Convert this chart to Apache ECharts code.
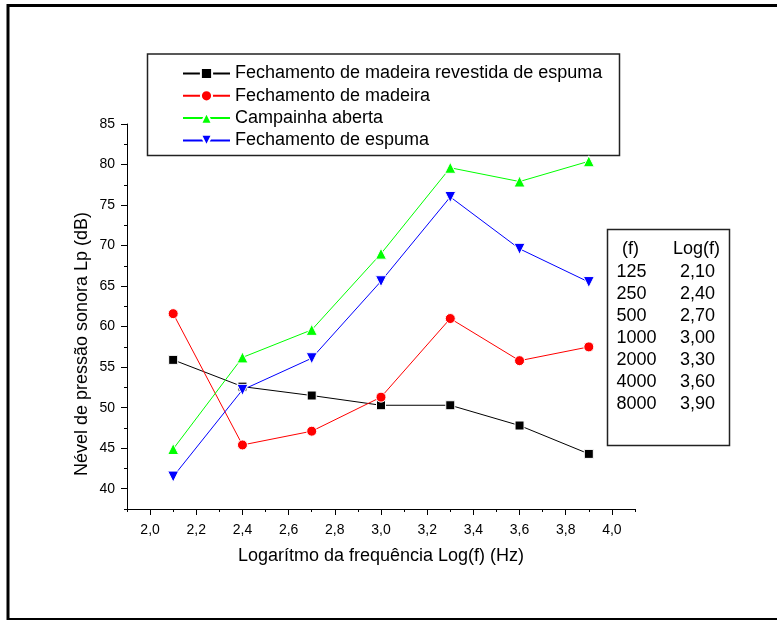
<!DOCTYPE html>
<html>
<head>
<meta charset="utf-8">
<script src="https://cdn.jsdelivr.net/npm/echarts@6/dist/echarts.min.js"></script>
<style>
  html, body { margin: 0; padding: 0; background: #fff; }
  #chart { width: 777px; height: 620px; }
</style>
</head>
<body>
<div id="chart"></div>
<script>
// log(f) das frequências medidas
const logF = [2.1, 2.4, 2.7, 3.0, 3.3, 3.6, 3.9];

// nível de pressão sonora (dB) para cada montagem
const madeiraEspuma = [55.9, 52.6, 51.5, 50.3, 50.3, 47.8, 44.3];
const madeira = [61.6, 45.4, 47.1, 51.3, 61.0, 55.8, 57.5];
const campainhaAberta = [44.9, 56.2, 59.6, 69.0, 79.6, 77.9, 80.4];
const espuma = [41.5, 52.2, 56.1, 65.6, 76.0, 69.6, 65.5];

// marcas dos eixos
const xTicks = [2.0, 2.2, 2.4, 2.6, 2.8, 3.0, 3.2, 3.4, 3.6, 3.8, 4.0];
const xMinor = [1.9, 2.1, 2.3, 2.5, 2.7, 2.9, 3.1, 3.3, 3.5, 3.7, 3.9, 4.1];
const yTicks = [40, 45, 50, 55, 60, 65, 70, 75, 80, 85];
const yMinor = [37.5, 42.5, 47.5, 52.5, 57.5, 62.5, 67.5, 72.5, 77.5, 82.5];

// tabela f -> Log(f)
const tabelaF = ['125', '250', '500', '1000', '2000', '4000', '8000'];
const tabelaLog = ['2,10', '2,40', '2,70', '3,00', '3,30', '3,60', '3,90'];

const FONT = 'Arial, "Liberation Sans", sans-serif';

const chart = echarts.init(document.getElementById('chart'));

function mkSeries(name, values, color, symbol, size, rotate) {
  return {
    name: name,
    type: 'line',
    data: logF.map((x, i) => [x, values[i]]),
    symbol: symbol,
    symbolSize: size,
    symbolRotate: rotate || 0,
    showAllSymbol: true,
    lineStyle: { color: color, width: 1 },
    itemStyle: { color: color, borderColor: '#fff', borderWidth: 1 },
    emphasis: { disabled: true },
    animation: false
  };
}

// textos da tabela
const tableTexts = [];
function cell(x, y, text) {
  tableTexts.push({
    type: 'text', x: x, y: y, z: 2,
    style: { text: text, font: '18px ' + FONT, fill: '#000', verticalAlign: 'middle' }
  });
}
cell(622, 249.5, '(f)');
cell(673, 249.5, 'Log(f)');
tabelaF.forEach((f, i) => {
  const y = 271.7 + i * 22.1;
  cell(616.5, y, f);
  cell(680, y, tabelaLog[i]);
});

const option = {
  backgroundColor: '#fff',
  animation: false,
  grid: { left: 127, top: 124, right: 142, bottom: 111 },
  legend: {
    orient: 'vertical',
    left: 177,
    top: 59.5,
    itemWidth: 47,
    itemHeight: 14,
    itemGap: 4.3,
    textStyle: { fontFamily: FONT, fontSize: 18, color: '#000', lineHeight: 18 },
    data: [
      'Fechamento de madeira revestida de espuma',
      'Fechamento de madeira',
      'Campainha aberta',
      'Fechamento de espuma'
    ],
    selectedMode: false
  },
  xAxis: [
    {
      type: 'value',
      min: 1.9,
      max: 4.1,
      position: 'bottom',
      name: 'Logarítmo da frequência Log(f) (Hz)',
      nameLocation: 'middle',
      nameGap: 38,
      nameTextStyle: { fontFamily: FONT, fontSize: 18, color: '#000' },
      splitLine: { show: false },
      axisLine: { onZero: false, lineStyle: { color: '#000', width: 1 } },
      axisTick: { customValues: xTicks, length: 6, lineStyle: { color: '#000' } },
      axisLabel: {
        customValues: xTicks,
        margin: 14,
        fontFamily: FONT, fontSize: 14, color: '#000',
        formatter: v => v.toFixed(1).replace('.', ',')
      }
    },
    {
      type: 'value',
      min: 1.9,
      max: 4.1,
      position: 'bottom',
      splitLine: { show: false },
      axisLine: { show: false, onZero: false },
      axisTick: { customValues: xMinor, length: 3, lineStyle: { color: '#000' } },
      axisLabel: { show: false }
    }
  ],
  yAxis: [
    {
      type: 'value',
      min: 37.5,
      max: 85,
      position: 'left',
      splitLine: { show: false },
      axisLine: { onZero: false, lineStyle: { color: '#000', width: 1 } },
      axisTick: { customValues: yTicks, length: 6, lineStyle: { color: '#000' } },
      axisLabel: {
        customValues: yTicks,
        margin: 12,
        fontFamily: FONT, fontSize: 14, color: '#000'
      }
    },
    {
      type: 'value',
      min: 37.5,
      max: 85,
      position: 'left',
      splitLine: { show: false },
      axisLine: { show: false, onZero: false },
      axisTick: { customValues: yMinor, length: 3, lineStyle: { color: '#000' } },
      axisLabel: { show: false }
    }
  ],
  series: [
    mkSeries('Fechamento de madeira revestida de espuma', madeiraEspuma, '#000000', 'rect', 9),
    mkSeries('Fechamento de madeira', madeira, '#ff0000', 'circle', 10),
    mkSeries('Campainha aberta', campainhaAberta, '#00ff00', 'triangle', 11),
    mkSeries('Fechamento de espuma', espuma, '#0000ff', 'triangle', 11, 180)
  ],
  graphic: [
    // moldura externa
    { type: 'line', shape: { x1: 8, y1: 4, x2: 8, y2: 620 }, style: { stroke: '#000', lineWidth: 3 } },
    { type: 'line', shape: { x1: 7, y1: 5.5, x2: 777, y2: 5.5 }, style: { stroke: '#000', lineWidth: 3 } },
    { type: 'line', shape: { x1: 7, y1: 619, x2: 777, y2: 619 }, style: { stroke: '#000', lineWidth: 2 } },
    // caixa da legenda
    { type: 'rect', shape: { x: 147.5, y: 54, width: 472, height: 101.5 }, style: { fill: 'none', stroke: '#222', lineWidth: 1.5 }, z: 1 },
    // caixa da tabela
    { type: 'rect', shape: { x: 607.5, y: 229.5, width: 122, height: 216 }, style: { fill: '#fff', stroke: '#222', lineWidth: 1.5 }, z: 1 },
    // título do eixo y
    {
      type: 'text', x: 82, y: 344, rotation: Math.PI / 2,
      style: { text: 'Nével de pressão sonora Lp (dB)', font: '18px ' + FONT, fill: '#000', align: 'center', verticalAlign: 'middle' }
    }
  ].concat(tableTexts)
};

chart.setOption(option);
</script>
</body>
</html>
